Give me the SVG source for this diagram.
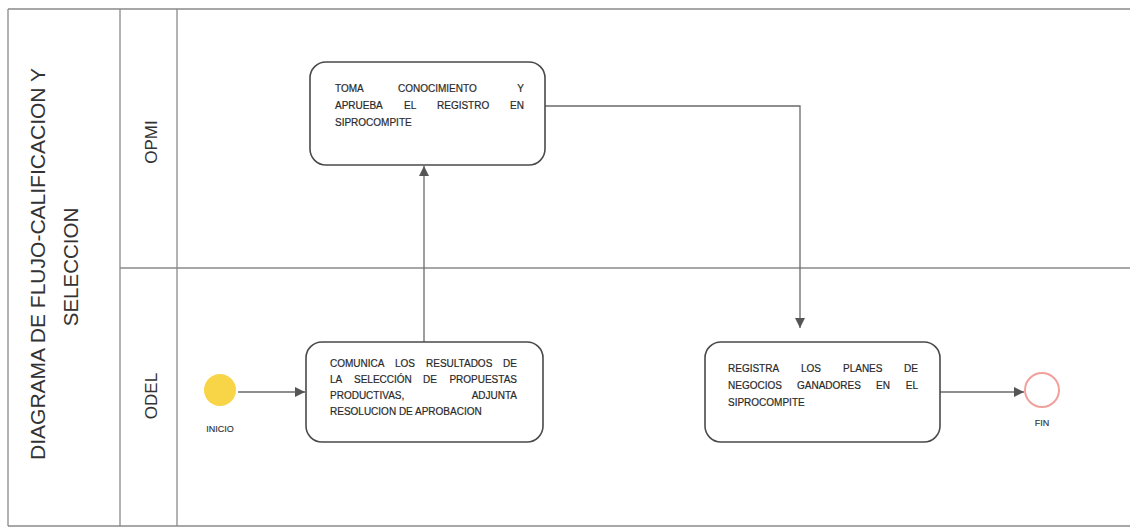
<svg xmlns="http://www.w3.org/2000/svg" width="1130" height="528" viewBox="0 0 1130 528">
<defs>
<style>
.lane{stroke:#8a8a8a;stroke-width:1.3;fill:none}
.box{fill:#fff;stroke:#4a4a4a;stroke-width:1.6}
.t{font-family:"Liberation Sans",Arial,sans-serif;font-size:10px;fill:#2a2a2a;stroke:#2a2a2a;stroke-width:0.2}
.lbl{font-family:"Liberation Sans",Arial,sans-serif;font-size:17px;fill:#333}
.title{font-family:"Liberation Sans",Arial,sans-serif;font-size:20.5px;fill:#333}
.small{font-family:"Liberation Sans",Arial,sans-serif;font-size:9px;fill:#333;stroke:#333;stroke-width:0.15}
.con{stroke:#6a6a6a;stroke-width:1.3;fill:none}
</style>
<marker id="ah" viewBox="0 0 10 10" refX="10" refY="5" markerWidth="11" markerHeight="10" markerUnits="userSpaceOnUse" orient="auto">
<path d="M0,0 L10,5 L0,10 z" fill="#555"/>
</marker>
</defs>
<rect width="1130" height="528" fill="#fff"/>
<g id="pool">
<line class="lane" x1="8" y1="9" x2="1130" y2="9"/>
<line class="lane" x1="8" y1="526" x2="1130" y2="526"/>
<line class="lane" x1="8" y1="9" x2="8" y2="526"/>
<line class="lane" x1="120" y1="9" x2="120" y2="526"/>
<line class="lane" x1="177" y1="9" x2="177" y2="526"/>
<line class="lane" x1="120" y1="268" x2="1130" y2="268"/>
<text class="title" text-anchor="middle" textLength="392" lengthAdjust="spacingAndGlyphs" transform="translate(45,264) rotate(-90)">DIAGRAMA DE FLUJO-CALIFICACION Y</text>
<text class="title" text-anchor="middle" transform="translate(78,267) rotate(-90)">SELECCION</text>
<text class="lbl" text-anchor="middle" transform="translate(157,142) rotate(-90)">OPMI</text>
<text class="lbl" text-anchor="middle" transform="translate(157,396) rotate(-90)">ODEL</text>
</g>
<g id="connectors">
<line class="con" x1="238" y1="392" x2="305" y2="392" marker-end="url(#ah)"/>
<line class="con" x1="424" y1="342" x2="424" y2="166" marker-end="url(#ah)"/>
<polyline class="con" points="545,106 800,106 800,328" marker-end="url(#ah)"/>
<line class="con" x1="940" y1="392" x2="1024" y2="392" marker-end="url(#ah)"/>
</g>
<g id="inicio">
<circle cx="220" cy="390" r="16" fill="#F8D547"/>
<text class="small" x="220" y="432" text-anchor="middle">INICIO</text>
</g>
<g id="fin">
<circle cx="1042" cy="390" r="17" fill="#fff" stroke="#F2A09C" stroke-width="2"/>
<text class="small" x="1042" y="426" text-anchor="middle">FIN</text>
</g>
<g id="toma">
<rect class="box" x="310" y="62" width="235" height="103" rx="16"/>
<text class="t" x="335" y="92">TOMA</text>
<text class="t" x="398" y="92">CONOCIMIENTO</text>
<text class="t" x="524" y="92" text-anchor="end">Y</text>
<text class="t" x="335" y="109">APRUEBA</text>
<text class="t" x="404" y="109">EL</text>
<text class="t" x="437" y="109">REGISTRO</text>
<text class="t" x="524" y="109" text-anchor="end">EN</text>
<text class="t" x="335" y="126">SIPROCOMPITE</text>
</g>
<g id="comunica">
<rect class="box" x="306" y="342" width="237" height="100" rx="16"/>
<text class="t" x="330" y="367">COMUNICA</text>
<text class="t" x="395" y="367">LOS</text>
<text class="t" x="426" y="367">RESULTADOS</text>
<text class="t" x="517" y="367" text-anchor="end">DE</text>
<text class="t" x="330" y="383">LA</text>
<text class="t" x="354" y="383">SELECCIÓN</text>
<text class="t" x="423" y="383">DE</text>
<text class="t" x="517" y="383" text-anchor="end">PROPUESTAS</text>
<text class="t" x="330" y="399">PRODUCTIVAS,</text>
<text class="t" x="517" y="399" text-anchor="end">ADJUNTA</text>
<text class="t" x="330" y="415">RESOLUCION DE APROBACION</text>
</g>
<g id="registra">
<rect class="box" x="705" y="342" width="235" height="100" rx="16"/>
<text class="t" x="728" y="372">REGISTRA</text>
<text class="t" x="801" y="372">LOS</text>
<text class="t" x="843" y="372">PLANES</text>
<text class="t" x="918" y="372" text-anchor="end">DE</text>
<text class="t" x="728" y="389">NEGOCIOS</text>
<text class="t" x="797" y="389">GANADORES</text>
<text class="t" x="876" y="389">EN</text>
<text class="t" x="918" y="389" text-anchor="end">EL</text>
<text class="t" x="728" y="406">SIPROCOMPITE</text>
</g>
</svg>
